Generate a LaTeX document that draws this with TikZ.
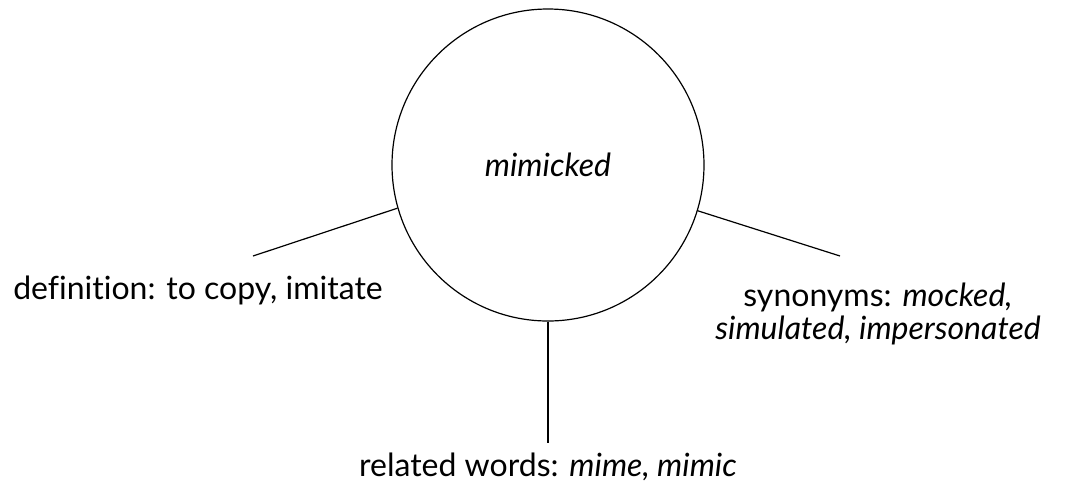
\documentclass[tikz,border=0pt]{standalone}
\usepackage{fontspec}
\setmainfont[Ligatures=CommonOff]{Lato}
\usetikzlibrary{positioning}

\begin{document}
\begin{tikzpicture}[x=0.5pt, y=-0.5pt,
    hub/.style={circle, draw, line width=0.6pt, minimum size=156pt, inner sep=0pt, font=\fontsize{16}{18}\selectfont\itshape},
    label/.style={font=\fontsize{16}{16.5}\selectfont, align=center},
    spoke/.style={line width=0.6pt}]
  \useasboundingbox (0,0) rectangle (1072,489);
  \node[hub] (word) at (548,165) {mimicked};
  % spoke ends
  \coordinate (defend) at (253,256);
  \coordinate (synend) at (840,256);
  \coordinate (relend) at (548,443);
  \draw[spoke] (word.196.9) -- (defend);
  \draw[spoke] (word.343.5) -- (synend);
  \draw[spoke] (word.south) -- (relend);
  % labels
  \node[label] (def) at (198,290) {definition: to copy, imitate};
  \node[label] (syn) at (878,314) {synonyms: \textit{mocked,}\\\textit{simulated, impersonated}};
  \node[label] (rel) at (548,467) {related words: \textit{mime, mimic}};
\end{tikzpicture}
\end{document}
